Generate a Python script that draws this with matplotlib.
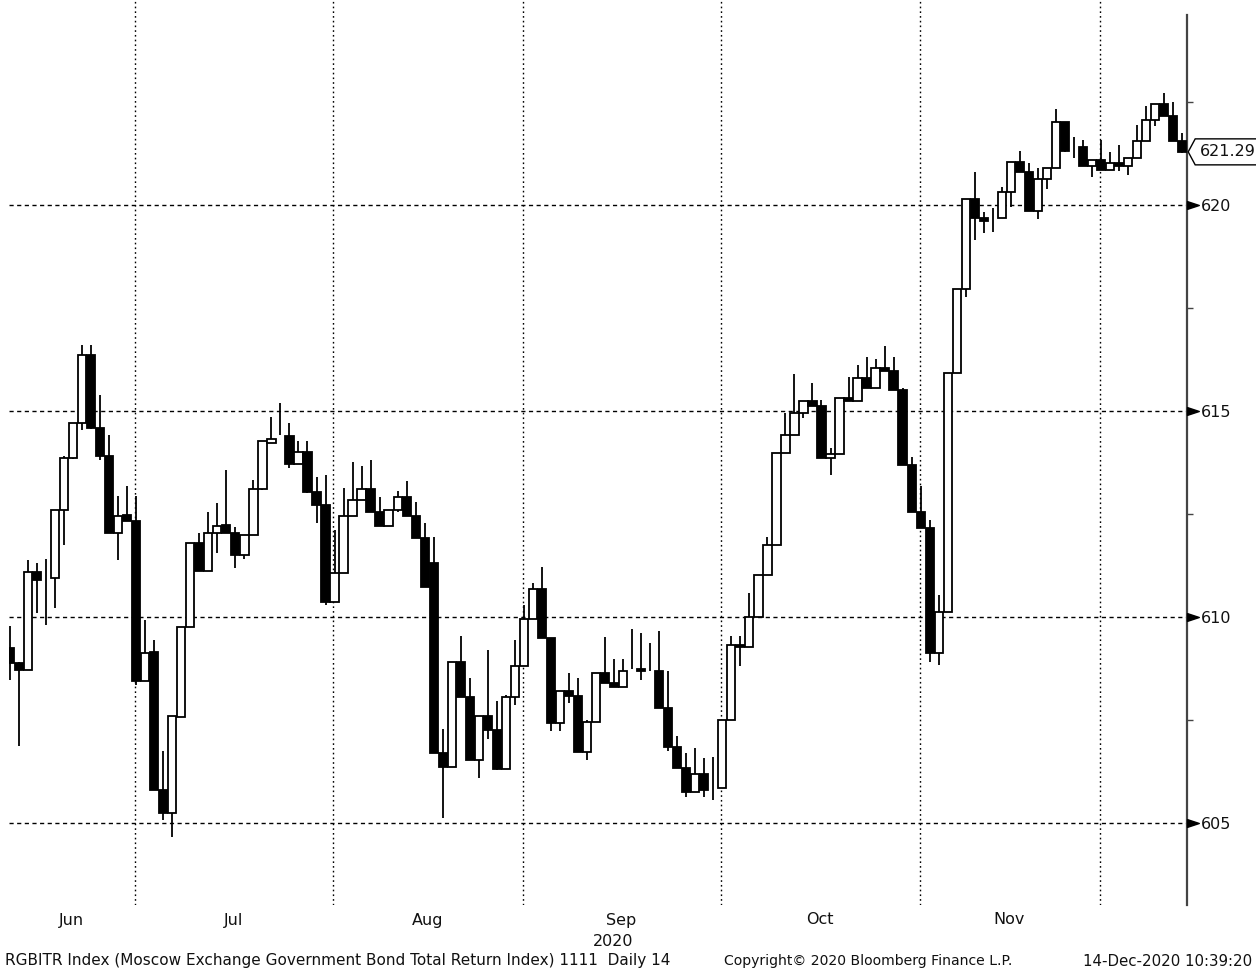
import numpy as np
import pandas as pd
import matplotlib
matplotlib.use("Agg")
import matplotlib.pyplot as plt
from matplotlib.path import Path
from matplotlib.patches import Rectangle, Polygon
from matplotlib.transforms import blended_transform_factory

# ---------------- data ----------------
open_ = [609.24, 608.88, 608.72, 611.10, 610.95, 610.94, 612.60, 613.86, 614.70, 616.36,
         614.58, 613.90, 612.04, 612.48, 612.34, 608.44, 609.14, 605.81, 605.24, 607.58,
         609.75, 611.79, 611.12, 612.03, 612.23, 612.05, 611.51, 611.99, 613.10, 614.23,
         614.42, 614.40, 613.71, 614.01, 613.04, 612.73, 610.37, 611.06, 612.44, 612.84,
         613.10, 612.54, 612.20, 612.60, 612.91, 612.44, 611.91, 611.31, 606.70, 606.36,
         608.90, 608.07, 606.52, 607.59, 607.25, 606.31, 608.05, 608.81, 609.96, 610.67,
         609.48, 607.43, 608.20, 608.08, 606.72, 607.46, 608.65, 608.40, 608.31, 608.74,
         608.73, 608.70, 608.69, 607.78, 606.85, 606.34, 605.76, 606.20, 605.90, 605.86,
         607.51, 609.32, 609.27, 610.00, 611.02, 611.75, 613.97, 614.42, 614.95, 615.25,
         615.12, 613.85, 613.95, 615.31, 615.25, 615.80, 615.55, 616.04, 615.98, 615.50,
         613.69, 612.56, 612.15, 609.12, 610.13, 615.93, 617.95, 620.14, 619.68, 619.70,
         619.68, 620.32, 621.05, 620.81, 619.86, 620.62, 620.89, 622.02, 621.30, 621.41,
         620.94, 621.10, 620.86, 621.02, 620.94, 621.13, 621.56, 622.06, 622.45, 622.16,
         621.56]
high = [609.77, 608.90, 611.39, 611.31, 611.40, 612.60, 613.90, 614.72, 616.61, 616.61,
        615.39, 614.42, 612.93, 613.17, 612.93, 609.93, 609.45, 606.74, 607.59, 609.75,
        611.79, 612.03, 612.56, 612.76, 613.57, 612.19, 611.99, 613.33, 614.26, 614.86,
        615.19, 614.70, 614.26, 614.26, 613.39, 613.45, 612.11, 613.13, 613.77, 613.67,
        613.81, 612.92, 612.60, 613.05, 613.31, 612.80, 612.28, 611.93, 607.28, 608.90,
        609.53, 608.53, 607.59, 609.19, 607.95, 608.11, 609.45, 610.30, 610.83, 611.22,
        609.48, 608.20, 608.63, 608.51, 607.51, 608.65, 609.52, 608.99, 608.99, 609.72,
        609.62, 609.36, 609.66, 608.69, 607.11, 606.69, 606.83, 606.59, 606.61, 607.51,
        609.54, 609.54, 610.59, 611.02, 611.95, 613.97, 614.95, 615.90, 615.25, 615.68,
        615.27, 614.10, 615.31, 615.82, 616.12, 616.32, 616.26, 616.58, 616.31, 615.55,
        613.89, 613.17, 612.36, 610.54, 615.93, 617.95, 620.14, 620.81, 619.84, 619.92,
        620.43, 621.05, 621.30, 621.01, 620.89, 620.89, 622.32, 622.02, 621.65, 621.57,
        621.10, 621.57, 621.29, 621.45, 621.13, 621.94, 622.40, 622.45, 622.72, 622.50,
        621.74]
low = [608.48, 606.86, 608.72, 610.09, 609.80, 610.21, 611.75, 613.84, 614.54, 614.56,
       613.81, 612.04, 611.39, 612.34, 608.35, 608.44, 605.81, 605.08, 604.67, 607.58,
       609.75, 611.12, 611.12, 611.55, 612.05, 611.18, 611.42, 611.99, 613.08, 614.23,
       614.42, 613.61, 613.71, 613.00, 612.27, 610.29, 610.37, 611.06, 612.44, 612.84,
       612.54, 612.20, 612.20, 612.56, 612.44, 611.91, 610.74, 606.70, 605.12, 606.36,
       608.07, 606.52, 606.09, 607.04, 606.28, 606.31, 607.87, 608.81, 609.96, 609.48,
       607.24, 607.24, 607.92, 606.72, 606.54, 607.46, 608.40, 608.31, 608.31, 608.73,
       608.47, 608.70, 607.78, 606.75, 606.34, 605.62, 605.76, 605.64, 605.56, 605.86,
       607.51, 608.81, 609.27, 610.00, 611.02, 611.75, 613.97, 614.42, 614.82, 615.12,
       613.85, 613.45, 613.95, 615.25, 615.25, 615.55, 615.55, 615.98, 615.50, 613.69,
       612.56, 612.15, 608.90, 608.84, 610.13, 615.93, 617.77, 619.15, 619.33, 619.35,
       619.68, 619.94, 620.81, 619.86, 619.65, 620.40, 620.89, 621.29, 621.15, 620.94,
       620.67, 620.86, 620.86, 620.83, 620.72, 621.13, 621.56, 621.91, 622.16, 621.56,
       621.27]
close = [608.88, 608.72, 611.10, 610.90, 610.95, 612.60, 613.86, 614.70, 616.36, 614.58,
         613.90, 612.04, 612.46, 612.34, 608.44, 609.12, 605.81, 605.24, 607.59, 609.75,
         611.79, 611.12, 612.03, 612.22, 612.05, 611.51, 611.99, 613.10, 614.26, 614.32,
         614.42, 613.71, 614.01, 613.04, 612.73, 610.37, 611.06, 612.44, 612.84, 613.10,
         612.54, 612.20, 612.60, 612.91, 612.44, 611.91, 610.74, 606.70, 606.36, 608.90,
         608.07, 606.52, 607.59, 607.25, 606.31, 608.05, 608.81, 609.96, 610.67, 609.48,
         607.43, 608.20, 608.08, 606.72, 607.46, 608.65, 608.40, 608.31, 608.69, 608.74,
         608.69, 608.70, 607.78, 606.85, 606.34, 605.76, 606.20, 605.81, 605.90, 607.51,
         609.33, 609.27, 610.00, 611.02, 611.75, 613.97, 614.42, 614.95, 615.25, 615.12,
         613.85, 613.95, 615.31, 615.25, 615.80, 615.55, 616.04, 615.98, 615.50, 613.69,
         612.56, 612.15, 609.12, 610.13, 615.93, 617.95, 620.14, 619.68, 619.62, 619.70,
         620.32, 621.05, 620.81, 619.86, 620.62, 620.89, 622.02, 621.31, 621.30, 620.94,
         621.10, 620.86, 621.02, 620.94, 621.13, 621.56, 622.06, 622.45, 622.16, 621.56,
         621.29]

start_date = "2020-06-09"
end_date = "2020-12-14"
holidays = ["2020-06-12", "2020-06-24", "2020-07-01", "2020-11-04"]
month_labels = ["Jun", "Jul", "Aug", "Sep", "Oct", "Nov"]
year_label = "2020"
y_major = [605, 610, 615, 620]
y_minor = [607.5, 612.5, 617.5, 622.5]
last_price = 621.29
footer_left = "RGBITR Index (Moscow Exchange Government Bond Total Return Index) 1111  Daily 14"
footer_mid = "Copyright\u00a9 2020 Bloomberg Finance L.P."
footer_right = "14-Dec-2020 10:39:20"

# ---------------- figure ----------------
dates = pd.bdate_range(start_date, end_date)
dates = dates[~dates.isin(pd.to_datetime(holidays))]
n = len(close)
x = np.arange(n)

W, H = 1256, 973
fig = plt.figure(figsize=(W / 100, H / 100), dpi=100)
fig.patch.set_facecolor("white")
ax_left, ax_right, ax_top, ax_bottom = 9, 1186.7, 0, 905
ax = fig.add_axes([ax_left / W, (H - ax_bottom) / H,
                   (ax_right - ax_left) / W, (ax_bottom - ax_top) / H])
ax.set_xlim(-0.1, n - 0.5)
ax.set_ylim(603.01, 624.976)

# grid
for v in y_major:
    ax.axhline(v, color="black", lw=1.0, dashes=(3, 2.5), zorder=1)
months = dates.to_period("M")
first_idx = [int(np.argmax(months == m)) for m in months.unique()]
for fi in first_idx[1:]:
    ax.axvline(fi - 0.12, color="black", lw=1.0, dashes=(1.2, 2.2), zorder=1)
ax.set_xlim(-0.1, n - 0.5)

# candles
body_w = 0.92
for i in range(n):
    o, h, l, c = open_[i], high[i], low[i], close[i]
    ax.plot([x[i], x[i]], [l, h], color="black", lw=1.3, zorder=2,
            solid_capstyle="butt")
    if abs(c - o) > 1e-9:
        fc = "white" if c > o else "black"
        ax.add_patch(Rectangle((x[i] - body_w / 2, min(o, c)), body_w, abs(c - o),
                               facecolor=fc, edgecolor="black", lw=1.3, zorder=3))

# spines
for s in ["top", "left", "bottom"]:
    ax.spines[s].set_visible(False)
ax.spines["right"].set_color("#444444")
ax.spines["right"].set_linewidth(1.6)
ax.spines["right"].set_bounds(603.01, 624.61)

# y axis
ax.yaxis.tick_right()
ax.set_yticks(y_major)
ax.set_yticklabels([str(v) for v in y_major])
ax.set_yticks(y_minor, minor=True)
ax.tick_params(axis="y", which="major", length=0, pad=10, labelsize=11.5,
               labelcolor="#111111")
ax.tick_params(axis="y", which="minor", length=4, width=1.0, direction="out",
               color="#444444")
tri = Path([(0, -0.33), (1, 0), (0, 0.33), (0, -0.33)],
           [Path.MOVETO, Path.LINETO, Path.LINETO, Path.CLOSEPOLY])
ax.plot([n - 0.5] * len(y_major), y_major, ls="none", marker=tri, ms=17,
        color="black", clip_on=False, zorder=5)

# x axis
ax.set_xticks([])
trans = blended_transform_factory(ax.transData, ax.transAxes)
month_pos = []
for m in months.unique():
    idx = np.where(months == m)[0]
    month_pos.append(idx.mean())
for lab, pos in zip(month_labels, month_pos):
    ax.text(pos + 0.3, -15 / 905, lab, transform=trans, ha="center", va="center",
            fontsize=11.5, color="#111111")
sep_pos = month_pos[month_labels.index("Sep")]
ax.text(sep_pos - 0.6, -36 / 905, year_label, transform=trans, ha="center",
        va="center", fontsize=11.5, color="#111111")

# last price marker
fig.canvas.draw()
tx, ty = ax.transData.transform((n - 0.5, last_price))
tx += 1.5
hh = 13
pts = np.array([(tx, ty), (tx + 7, ty + hh), (W + 2, ty + hh), (W + 2, ty - hh),
                (tx + 7, ty - hh)])
poly = Polygon(pts / [W, H], closed=True, transform=fig.transFigure,
               facecolor="white", edgecolor="black", lw=1.0, clip_on=False, zorder=10)
fig.patches.append(poly)
fig.text((tx + 12) / W, ty / H, f"{last_price:.2f}", ha="left", va="center",
         fontsize=11.5, color="#111111", zorder=11)

# footer
fy = (H - 961) / H
fig.text(5 / W, fy, footer_left, ha="left", va="center", fontsize=10.95, color="#111111")
fig.text(724 / W, fy, footer_mid, ha="left", va="center", fontsize=10.05, color="#111111")
fig.text(1252 / W, fy, footer_right, ha="right", va="center", fontsize=10.8,
         color="#111111")

fig.savefig("out.png", dpi=100, facecolor="white")
